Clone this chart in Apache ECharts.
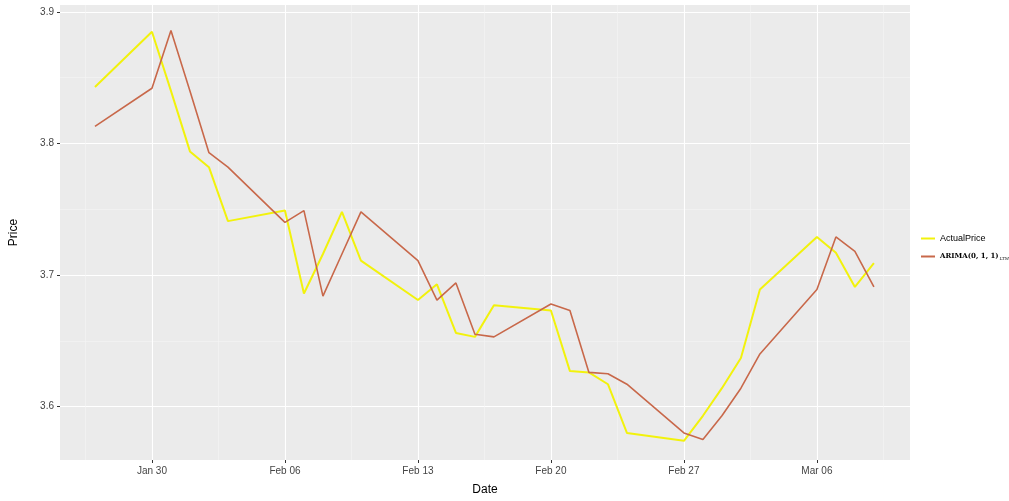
<!DOCTYPE html>
<html>
<head>
<meta charset="utf-8">
<script src="https://cdn.jsdelivr.net/npm/echarts@6/dist/echarts.min.js"></script>
<style>html,body{margin:0;background:#fff}#c{width:1009px;height:501px}</style>
</head>
<body>
<div id="c"></div>
<script>
// x = trading day, counted in calendar days from Jan 27
const days = [0, 3, 4, 5, 6, 7, 10, 11, 12, 13, 14, 17, 18, 19, 20, 21, 24, 25, 26, 27, 28, 31, 32, 33, 34, 35, 38, 39, 40, 41];
const actualPrice = [3.843, 3.885, 3.840, 3.794, 3.782, 3.741, 3.749, 3.686, 3.716, 3.748, 3.711, 3.681, 3.693, 3.656, 3.653, 3.677, 3.673, 3.627, 3.626, 3.617, 3.580, 3.574, 3.593, 3.614, 3.637, 3.689, 3.729, 3.717, 3.691, 3.709];
const arimaPrice = [3.813, 3.842, 3.886, 3.840, 3.793, 3.782, 3.740, 3.749, 3.684, 3.716, 3.748, 3.711, 3.681, 3.694, 3.655, 3.653, 3.678, 3.673, 3.626, 3.625, 3.617, 3.580, 3.575, 3.593, 3.614, 3.640, 3.689, 3.729, 3.718, 3.691];
const xTicks = [3, 10, 17, 24, 31, 38];
const xTickLabels = ['Jan 30', 'Feb 06', 'Feb 13', 'Feb 20', 'Feb 27', 'Mar 06'];
const xMinor = [-0.5, 6.5, 13.5, 20.5, 27.5, 34.5, 41.5];
const yTicks = [3.6, 3.7, 3.8, 3.9];
const yMinor = [3.65, 3.75, 3.85];

const chart = echarts.init(document.getElementById('c'));
const grid = { left: 60, top: 5, right: 99, bottom: 36, show: true, backgroundColor: '#EBEBEB', borderWidth: 0 };
const xMin = -1.84, xMax = 42.9, yMin = 3.5594, yMax = 3.9053;
const lbl = { color: '#444', fontSize: 10, fontFamily: 'Liberation Sans' };

chart.setOption({
  animation: false,
  grid: grid,
  xAxis: [
    {
      type: 'value', min: xMin, max: xMax,
      name: 'Date', nameLocation: 'middle', nameGap: 24,
      nameTextStyle: { color: '#000', fontSize: 12, fontFamily: 'Liberation Sans' },
      axisLine: { show: false, onZero: false },
      axisTick: { show: true, length: 3, lineStyle: { color: '#333' }, customValues: xTicks },
      axisLabel: Object.assign({ customValues: xTicks, margin: 6,
        formatter: v => xTickLabels[xTicks.indexOf(v)] }, lbl),
      splitLine: { show: true, lineStyle: { color: '#fff', width: 1.1 } }
    },
    {
      type: 'value', min: xMin, max: xMax, position: 'bottom',
      axisLine: { show: false, onZero: false }, axisLabel: { show: false },
      axisTick: { show: false, customValues: xMinor },
      splitLine: { show: true, lineStyle: { color: '#F5F5F5', width: 0.6 } }
    }
  ],
  yAxis: [
    {
      type: 'value', min: yMin, max: yMax,
      name: 'Price', nameLocation: 'middle', nameGap: 40,
      nameTextStyle: { color: '#000', fontSize: 12, fontFamily: 'Liberation Sans' },
      axisLine: { show: false, onZero: false },
      axisTick: { show: true, length: 3, lineStyle: { color: '#333' }, customValues: yTicks },
      axisLabel: Object.assign({ customValues: yTicks, margin: 6, formatter: v => v.toFixed(1) }, lbl),
      splitLine: { show: true, lineStyle: { color: '#fff', width: 1.1 } }
    },
    {
      type: 'value', min: yMin, max: yMax,
      axisLine: { show: false, onZero: false }, axisLabel: { show: false },
      axisTick: { show: false, customValues: yMinor },
      splitLine: { show: true, lineStyle: { color: '#F5F5F5', width: 0.6 } }
    }
  ],
  legend: {
    orient: 'vertical', left: 916, top: 229, itemWidth: 14, itemHeight: 2, itemGap: 10,
    icon: 'rect',
    data: ['ActualPrice', 'ARIMA'],
    textStyle: { color: '#000', fontSize: 9, fontFamily: 'Liberation Sans',
      rich: {
        a: { fontFamily: 'DejaVu Serif', fontWeight: 'bold', fontSize: 7 },
        s: { fontFamily: 'DejaVu Serif', fontStyle: 'italic', fontSize: 4, padding: [5, 0, 0, 1] }
      } },
    formatter: n => n === 'ARIMA' ? '{a|ARIMA(0, 1, 1)}{s|LTM}' : n
  },
  series: [
    {
      name: 'ActualPrice', type: 'line', symbol: 'none', color: '#F2F20C',
      lineStyle: { width: 2, color: '#F2F20C' },
      data: days.map((d, i) => [d, actualPrice[i]])
    },
    {
      name: 'ARIMA', type: 'line', symbol: 'none', color: '#C8684A',
      lineStyle: { width: 1.6, color: '#C8684A' },
      data: days.map((d, i) => [d, arimaPrice[i]])
    }
  ]
});
</script>
</body>
</html>
